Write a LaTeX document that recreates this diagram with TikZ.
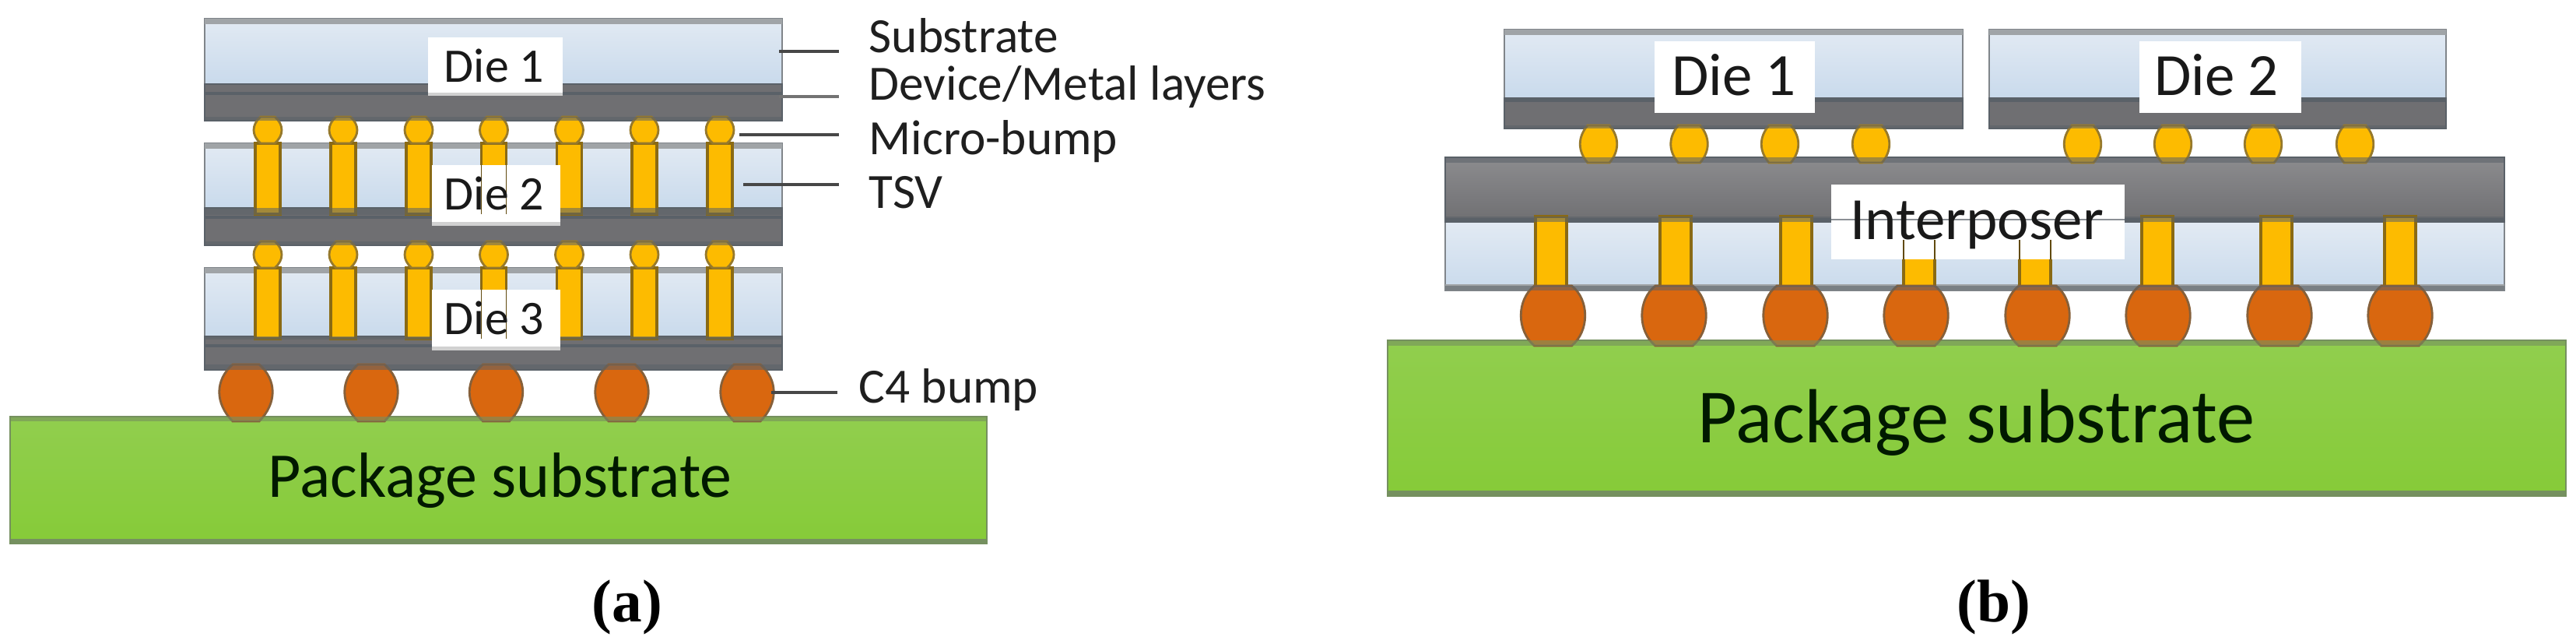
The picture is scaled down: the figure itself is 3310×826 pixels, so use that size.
\documentclass[tikz,border=0pt]{standalone}
\usepackage{fontspec}
\setmainfont{Carlito}
\newfontfamily\capfont{Liberation Serif}
\definecolor{bluetop}{HTML}{E2EAF3}
\definecolor{bluebot}{HTML}{C9DAEC}
\definecolor{edgegray}{HTML}{80858A}
\definecolor{devgray}{HTML}{6F6F72}
\definecolor{devline}{HTML}{5A6168}
\definecolor{tsvfill}{HTML}{FDBB00}
\definecolor{tsvedge}{HTML}{8A6A14}
\definecolor{cfill}{HTML}{D9670F}
\definecolor{cedge}{HTML}{86603A}
\definecolor{greentop}{HTML}{91CE4E}
\definecolor{greenbot}{HTML}{86CB38}
\definecolor{greenedge}{HTML}{75905F}
\begin{document}
\begin{tikzpicture}[x=0.01cm, y=-0.01cm,
    sub/.style = {draw=edgegray, line width=0.4pt, top color=bluetop, bottom color=bluebot},
    band/.style = {fill=edgegray!75, draw=none},
    dev/.style = {draw=devline, line width=0.5pt, fill=devgray},
    tsv/.style = {fill=tsvfill, draw=tsvedge, line width=0.9pt},
    micro/.style = {fill=tsvfill, draw=tsvedge!90, line width=0.8pt},
    cfour/.style = {fill=cfill, draw=cedge, line width=0.8pt},
    pkg/.style = {draw=greenedge, line width=0.6pt, top color=greentop, bottom color=greenbot},
    pkgband/.style = {fill=greenedge, draw=none},
    patch/.style = {fill=white, draw=none},
    stripe/.style = {fill=black!18, draw=none},
    veil/.style = {fill=devline, opacity=0.55, draw=none},
    greenveil/.style = {fill=greenedge, opacity=0.6, draw=none},
    leader/.style = {draw=black!72, line width=1.2pt},
    txt/.style = {anchor=base west, inner sep=0pt, text=black!88, font=\fontsize{18}{20}\selectfont},
    die/.style = {anchor=base, inner sep=0pt, text=black!90, font=\fontsize{17.6}{20}\selectfont},
    dieb/.style = {anchor=base, inner sep=0pt, text=black!90, font=\fontsize{21.9}{26}\selectfont},
    pkgtxt/.style = {anchor=base west, inner sep=0pt, text=black!90!green},
    tag/.style = {anchor=base, inner sep=0pt, font=\capfont\bfseries\fontsize{22}{26}\selectfont}]
    \useasboundingbox (0,0) rectangle (3310,826);

    % left stack
    \draw[pkg] (13,535) rectangle (1268,698);
    \fill[pkgband] (13,692) rectangle (1268,698);
    \foreach \ytop/\ymid/\ybot in {24/108/155, 184/267/315, 344/432/475} {
        \draw[sub] (263,\ytop) rectangle (1005,\ymid);
        \fill[band] (263,\ytop) rectangle (1005,\ytop+7);
        \draw[dev] (263,\ymid) rectangle (1005,\ybot);
        \draw[devline, line width=1pt] (263,\ymid+12) -- (1005,\ymid+12);
    }
    \foreach \ytop/\ybot in {184/275, 344/435} {
        \foreach \x in {344,441,538,634.5,731.5,828,925} {
            \draw[tsv] (\x-16,\ytop) rectangle (\x+16,\ybot);
        }
    }
    \foreach \y in {150,310} {
        \foreach \x in {344,441,538,634.5,731.5,828,925} {
            \draw[micro] (\x-9,\y) .. controls (\x-21,\y+10) and (\x-21,\y+24) .. (\x-9,\y+34)
                -- (\x+9,\y+34) .. controls (\x+21,\y+24) and (\x+21,\y+10) .. (\x+9,\y) -- cycle;
        }
    }
    \foreach \x in {316,477,637.5,799,960} {
        \draw[cfour] (\x-17,468) .. controls (\x-40,488) and (\x-40,518) .. (\x-17,541)
            -- (\x+17,541) .. controls (\x+40,518) and (\x+40,488) .. (\x+17,468) -- cycle;
    }
    % layers seen through the bump ends
    \fill[veil] (263,150) rectangle (1005,155);
    \fill[veil] (263,267) rectangle (1005,276);
    \fill[veil] (263,310) rectangle (1005,315);
    \fill[veil] (263,432) rectangle (1005,436);
    \fill[veil] (263,468) rectangle (1005,475);
    \fill[greenveil] (13,535) rectangle (1268,541);
    \fill[patch] (550,48) rectangle (723,123);
    \fill[patch] (555,212) rectangle (720,290);
    \fill[patch] (555,372) rectangle (720,450);
    \fill[stripe] (550,119) rectangle (723,123);
    \fill[stripe] (555,285) rectangle (720,290);
    \fill[stripe] (555,445) rectangle (720,450);
    \foreach \ytop/\ybot in {212/275, 372/435} {
        \draw[tsvedge!70!black, line width=0.5pt] (618.5,\ytop) -- (618.5,\ybot);
        \draw[tsvedge!70!black, line width=0.5pt] (650.5,\ytop) -- (650.5,\ybot);
    }
    \node[die] (die1a) at (635,105) {Die 1};
    \node[die] (die2a) at (635,269) {Die 2};
    \node[die] (die3a) at (635,429) {Die 3};
    \node[pkgtxt, font=\fontsize{23.3}{28}\selectfont] (pkga) at (344,638) {Package substrate};

    % left callouts
    \node[txt] (subs) at (1116,67) {Substrate};
    \node[txt] (devm) at (1116,128) {Device/Metal layers};
    \node[txt] (ubump) at (1116,198) {Micro-bump};
    \node[txt] (tsvl) at (1116,267) {TSV};
    \node[txt] (cbump) at (1103,517) {C4 bump};
    \coordinate (subs a) at (1001,66);
    \coordinate (subs b) at (1078,66);
    \coordinate (devm a) at (1001,124);
    \coordinate (devm b) at (1078,124);
    \coordinate (ubump a) at (950,173);
    \coordinate (ubump b) at (1078,173);
    \coordinate (tsvl a) at (955,237);
    \coordinate (tsvl b) at (1078,237);
    \coordinate (cbump a) at (991,504);
    \coordinate (cbump b) at (1076,504);
    \draw[leader] (subs a) -- (subs b);
    \draw[leader, black!55] (devm a) -- (devm b);
    \draw[leader] (ubump a) -- (ubump b);
    \draw[leader] (tsvl a) -- (tsvl b);
    \draw[leader] (cbump a) -- (cbump b);

    % right stack
    \draw[pkg] (1783,437) rectangle (3297,637);
    \fill[pkgband] (1783,630) rectangle (3297,637);
    \draw[sub] (1857,285) rectangle (3218,373);
    \fill[band] (1857,365) rectangle (3218,373);
    \draw[dev, top color=devgray!80!white, bottom color=devgray] (1857,202) rectangle (3218,285);
    \draw[devline, line width=1pt] (1857,282) -- (3218,282);
    \foreach \xl/\xr in {1933/2522, 2556/3143} {
        \draw[sub] (\xl,38) rectangle (\xr,126);
        \fill[band] (\xl,38) rectangle (\xr,45);
        \draw[dev] (\xl,126) rectangle (\xr,165);
        \draw[devline, line width=1pt] (\xl,129) -- (\xr,129);
    }
    \foreach \x in {1993,2153,2308,2466,2615,2772,2925,3084} {
        \draw[tsv] (\x-20,278) rectangle (\x+20,368);
    }
    \foreach \x in {2054,2170.5,2287,2404,2676,2792,2908,3026} {
        \draw[micro] (\x-14,161) .. controls (\x-27,176) and (\x-27,194) .. (\x-14,209)
            -- (\x+14,209) .. controls (\x+27,194) and (\x+27,176) .. (\x+14,161) -- cycle;
    }
    \foreach \x in {1995.5,2151,2307,2462,2618,2773,2929,3084} {
        \draw[cfour] (\x-24,367) .. controls (\x-47,385) and (\x-47,425) .. (\x-24,444)
            -- (\x+24,444) .. controls (\x+47,425) and (\x+47,385) .. (\x+24,367) -- cycle;
    }
    % layers seen through the bump ends
    \fill[veil] (1933,161) rectangle (2522,165);
    \fill[veil] (2556,161) rectangle (3143,165);
    \fill[veil] (1857,202) rectangle (3218,209);
    \fill[veil] (1857,278) rectangle (3218,285);
    \fill[veil] (1857,367) rectangle (3218,373);
    \fill[greenveil] (1783,437) rectangle (3297,444);
    \fill[patch] (2126,53) rectangle (2332,145);
    \fill[patch] (2749,53) rectangle (2957,145);
    \fill[patch] (2353,237) rectangle (2730,333);
    \draw[devline!70, line width=0.6pt] (2353,282) -- (2730,282);
    \foreach \x in {2466,2615} {
        \draw[tsvedge!70!black, line width=0.5pt] (\x-20,308) -- (\x-20,333);
        \draw[tsvedge!70!black, line width=0.5pt] (\x+20,308) -- (\x+20,333);
    }
    \node[dieb] (die1b) at (2228,122) {Die 1};
    \node[dieb] (die2b) at (2848,122) {Die 2};
    \node[dieb] (intp) at (2540,307) {Interposer};
    \node[pkgtxt, font=\fontsize{28}{33}\selectfont] (pkgb) at (2181,568) {Package substrate};

    % captions
    \node[tag] (capa) at (806,798) {(a)};
    \node[tag] (capb) at (2562,798) {(b)};
\end{tikzpicture}
\end{document}
